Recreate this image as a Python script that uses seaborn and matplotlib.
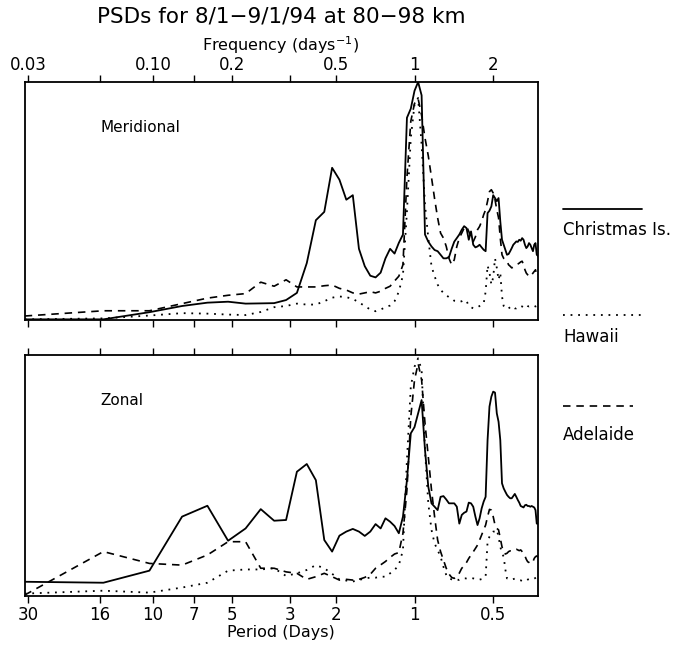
import numpy as np
import pandas as pd
import matplotlib
matplotlib.use("Agg")
import matplotlib.pyplot as plt
import seaborn as sns
from matplotlib.lines import Line2D
from matplotlib.ticker import FixedLocator, NullLocator

# ---------------- data ----------------
# 31-day record -> spectral estimates at harmonics k/31 cycles per day
harmonic = np.arange(1, 94)
freq = harmonic / 31.0

mer_christmas = [
    0.004, 0.004, 0.034, 0.06, 0.074, 0.078, 0.07, 0.071, 0.072, 0.085,
    0.115, 0.24, 0.42, 0.455, 0.64, 0.59, 0.506, 0.525, 0.30, 0.227,
    0.187, 0.18, 0.20, 0.26, 0.30, 0.28, 0.325, 0.36, 0.85, 0.888,
    0.963, 1.0, 0.944, 0.36, 0.33, 0.31, 0.295, 0.29, 0.275, 0.26,
    0.26, 0.265, 0.30, 0.33, 0.345, 0.36, 0.38, 0.395, 0.387, 0.338,
    0.373, 0.317, 0.306, 0.31, 0.317, 0.306, 0.296, 0.29, 0.45, 0.46,
    0.478, 0.525, 0.513, 0.50, 0.513, 0.415, 0.338, 0.317, 0.296, 0.275,
    0.278, 0.29, 0.303, 0.317, 0.324, 0.331, 0.329, 0.338, 0.334, 0.345,
    0.338, 0.317, 0.303, 0.31, 0.324, 0.317, 0.303, 0.29, 0.317, 0.324,
    0.275, 0.27, 0.26]
mer_hawaii = [
    0.004, 0.008, 0.02, 0.03, 0.028, 0.024, 0.022, 0.035, 0.055, 0.06,
    0.07, 0.066, 0.066, 0.08, 0.095, 0.10, 0.097, 0.09, 0.075, 0.06,
    0.045, 0.038, 0.045, 0.055, 0.062, 0.08, 0.12, 0.19, 0.457, 0.765,
    0.905, 0.933, 0.737, 0.485, 0.345, 0.227, 0.185, 0.15, 0.128, 0.115,
    0.105, 0.097, 0.091, 0.082, 0.08, 0.077, 0.08, 0.085, 0.082, 0.06,
    0.055, 0.05, 0.052, 0.055, 0.06, 0.065, 0.07, 0.12, 0.23, 0.20,
    0.15, 0.18, 0.26, 0.22, 0.17, 0.20, 0.10, 0.06, 0.05, 0.048,
    0.05, 0.055, 0.06, 0.055, 0.05, 0.05, 0.055, 0.06, 0.06, 0.058,
    0.055, 0.06, 0.065, 0.06, 0.058, 0.06, 0.062, 0.06, 0.06, 0.058,
    0.06, 0.06, 0.06]
mer_adelaide = [
    0.018, 0.04, 0.04, 0.07, 0.093, 0.105, 0.112, 0.16, 0.143, 0.17,
    0.14, 0.14, 0.14, 0.145, 0.148, 0.134, 0.127, 0.115, 0.11, 0.115,
    0.12, 0.115, 0.122, 0.134, 0.143, 0.165, 0.185, 0.233, 0.60, 0.835,
    0.91, 0.93, 0.86, 0.765, 0.69, 0.60, 0.51, 0.43, 0.366, 0.345,
    0.31, 0.26, 0.233, 0.254, 0.31, 0.345, 0.366, 0.387, 0.394, 0.373,
    0.35, 0.33, 0.35, 0.38, 0.394, 0.415, 0.443, 0.464, 0.50, 0.54,
    0.548, 0.534, 0.506, 0.464, 0.43, 0.345, 0.275, 0.26, 0.254, 0.248,
    0.233, 0.227, 0.22, 0.223, 0.227, 0.233, 0.236, 0.24, 0.245, 0.248,
    0.233, 0.212, 0.198, 0.191, 0.184, 0.184, 0.191, 0.198, 0.205, 0.212,
    0.191, 0.185, 0.20]

zon_christmas = [
    0.059, 0.055, 0.105, 0.329, 0.374, 0.229, 0.28, 0.36, 0.312, 0.315,
    0.515, 0.547, 0.48, 0.232, 0.184, 0.25, 0.267, 0.278, 0.267, 0.249,
    0.267, 0.298, 0.28, 0.322, 0.308, 0.29, 0.26, 0.329, 0.48, 0.674,
    0.70, 0.757, 0.812, 0.605, 0.453, 0.384, 0.37, 0.356, 0.411, 0.414,
    0.40, 0.384, 0.384, 0.384, 0.37, 0.30, 0.336, 0.345, 0.35, 0.387,
    0.384, 0.37, 0.329, 0.294, 0.322, 0.363, 0.391, 0.411, 0.646, 0.785,
    0.826, 0.847, 0.843, 0.757, 0.722, 0.646, 0.467, 0.446, 0.432, 0.419,
    0.411, 0.405, 0.405, 0.414, 0.423, 0.411, 0.398, 0.387, 0.373, 0.37,
    0.367, 0.376, 0.378, 0.373, 0.373, 0.37, 0.373, 0.37, 0.367, 0.356,
    0.30, 0.30, 0.30]
zon_hawaii = [
    0.01, 0.022, 0.014, 0.035, 0.055, 0.105, 0.11, 0.11, 0.115, 0.083,
    0.094, 0.108, 0.128, 0.115, 0.092, 0.069, 0.064, 0.06, 0.066, 0.073,
    0.076, 0.076, 0.08, 0.08, 0.094, 0.108, 0.128, 0.19, 0.564, 0.867,
    0.95, 0.985, 0.937, 0.605, 0.384, 0.274, 0.218, 0.19, 0.163, 0.121,
    0.087, 0.073, 0.069, 0.066, 0.069, 0.066, 0.069, 0.073, 0.073, 0.075,
    0.075, 0.073, 0.07, 0.07, 0.068, 0.07, 0.075, 0.08, 0.225, 0.246,
    0.26, 0.267, 0.267, 0.274, 0.246, 0.204, 0.177, 0.163, 0.11, 0.073,
    0.073, 0.07, 0.068, 0.07, 0.072, 0.07, 0.068, 0.066, 0.065, 0.062,
    0.06, 0.062, 0.065, 0.068, 0.07, 0.072, 0.072, 0.07, 0.072, 0.075,
    0.078, 0.08, 0.08]
zon_adelaide = [
    0.004, 0.184, 0.135, 0.128, 0.17, 0.225, 0.225, 0.115, 0.115, 0.10,
    0.094, 0.069, 0.08, 0.094, 0.08, 0.066, 0.069, 0.066, 0.069, 0.077,
    0.09, 0.115, 0.129, 0.143, 0.16, 0.174, 0.18, 0.26, 0.44, 0.743,
    0.895, 0.964, 0.895, 0.716, 0.577, 0.44, 0.329, 0.232, 0.184, 0.149,
    0.115, 0.091, 0.077, 0.073, 0.08, 0.095, 0.115, 0.125, 0.139, 0.156,
    0.17, 0.183, 0.197, 0.211, 0.232, 0.253, 0.274, 0.294, 0.329, 0.359,
    0.356, 0.329, 0.294, 0.28, 0.274, 0.239, 0.204, 0.18, 0.174, 0.177,
    0.184, 0.187, 0.187, 0.191, 0.194, 0.194, 0.191, 0.188, 0.191, 0.184,
    0.177, 0.166, 0.152, 0.142, 0.139, 0.135, 0.135, 0.142, 0.156, 0.163,
    0.166, 0.16, 0.13]

stations = ["Christmas Is.", "Hawaii", "Adelaide"]
panel_names = ["Meridional", "Zonal"]
tick_freqs = [1/30, 1/16, 1/10, 1/7, 1/5, 1/3, 1/2, 1, 2]
freq_labels = ["0.03", "", "0.10", "", "0.2", "", "0.5", "1", "2"]
period_labels = ["30", "16", "10", "7", "5", "3", "2", "1", "0.5"]

rows = []
for comp, series in zip(panel_names,
                        [[mer_christmas, mer_hawaii, mer_adelaide],
                         [zon_christmas, zon_hawaii, zon_adelaide]]):
    for st, vals in zip(stations, series):
        for f, v in zip(freq, vals):
            rows.append((comp, st, f, v))
df = pd.DataFrame(rows, columns=["component", "station", "freq", "psd"])

# ---------------- styling ----------------
sns.set_theme(style="white")
plt.rcParams["font.family"] = ["DejaVu Sans"]

line_style = {
    "Christmas Is.": dict(linestyle="-", linewidth=1.3),
    "Hawaii": dict(linestyle=(0, (1.0, 3.2)), linewidth=1.3),
    "Adelaide": dict(linestyle=(0, (4.5, 3.5)), linewidth=1.2),
}

W, H = 682, 651
fig = plt.figure(figsize=(W / 100, H / 100), dpi=100)
ax1 = fig.add_axes([24.7 / W, 1 - 320.3 / H, 513 / W, 238.3 / H])
ax2 = fig.add_axes([24.7 / W, 1 - 596 / H, 513 / W, 241.3 / H])

for ax, comp in zip([ax1, ax2], panel_names):
    sub = df[df.component == comp]
    for st in stations:
        d = sub[sub.station == st]
        sns.lineplot(data=d, x="freq", y="psd", ax=ax, color="black",
                     estimator=None, sort=False, legend=False,
                     **line_style[st])
    ax.set_xscale("log")
    ax.set_xlim(1 / 31, 2.96)
    ax.set_ylim(0, 1.0)
    ax.set_yticks([])
    ax.set_xlabel("")
    ax.set_ylabel("")
    ax.xaxis.set_major_locator(FixedLocator(tick_freqs))
    ax.xaxis.set_minor_locator(NullLocator())
    for sp in ax.spines.values():
        sp.set_visible(True)
        sp.set_color("black")
        sp.set_linewidth(1.3)
    ax.text(0.147, 0.81, comp, transform=ax.transAxes, ha="left",
            va="center", fontsize=11, color="black")

ax1.set_xticklabels(freq_labels)
ax1.tick_params(axis="x", which="major", direction="out", length=5,
                width=1, top=True, bottom=True, labeltop=True,
                labelbottom=False, labelsize=12, pad=1, colors="black")
ax2.set_xticklabels(period_labels)
ax2.tick_params(axis="x", which="major", direction="out", length=5,
                width=1, top=True, bottom=True, labeltop=False,
                labelbottom=True, labelsize=12, pad=2, colors="black")

cx = 281 / W
fig.text(cx, 1 - 17 / H, "PSDs for 8/1\u22129/1/94 at 80\u221298 km",
         ha="center", va="center", fontsize=15.5, color="black")
fig.text(cx, 1 - 45 / H, r"Frequency (days$^{-1}$)", ha="center",
         va="center", fontsize=11.5, color="black")
fig.text(cx, 1 - 632 / H, "Period (Days)", ha="center", va="center",
         fontsize=11.5, color="black")

# legend at right
leg = [("Christmas Is.", 209, 230, 642), ("Hawaii", 315, 337, 642),
       ("Adelaide", 406, 435, 633)]
for st, ly, ty, x2 in leg:
    fig.add_artist(Line2D([563 / W, x2 / W], [1 - ly / H, 1 - ly / H],
                          transform=fig.transFigure, color="black",
                          **line_style[st]))
    fig.text(563 / W, 1 - ty / H, st, ha="left", va="center",
             fontsize=12, color="black")

fig.savefig("out.png", dpi=100)
